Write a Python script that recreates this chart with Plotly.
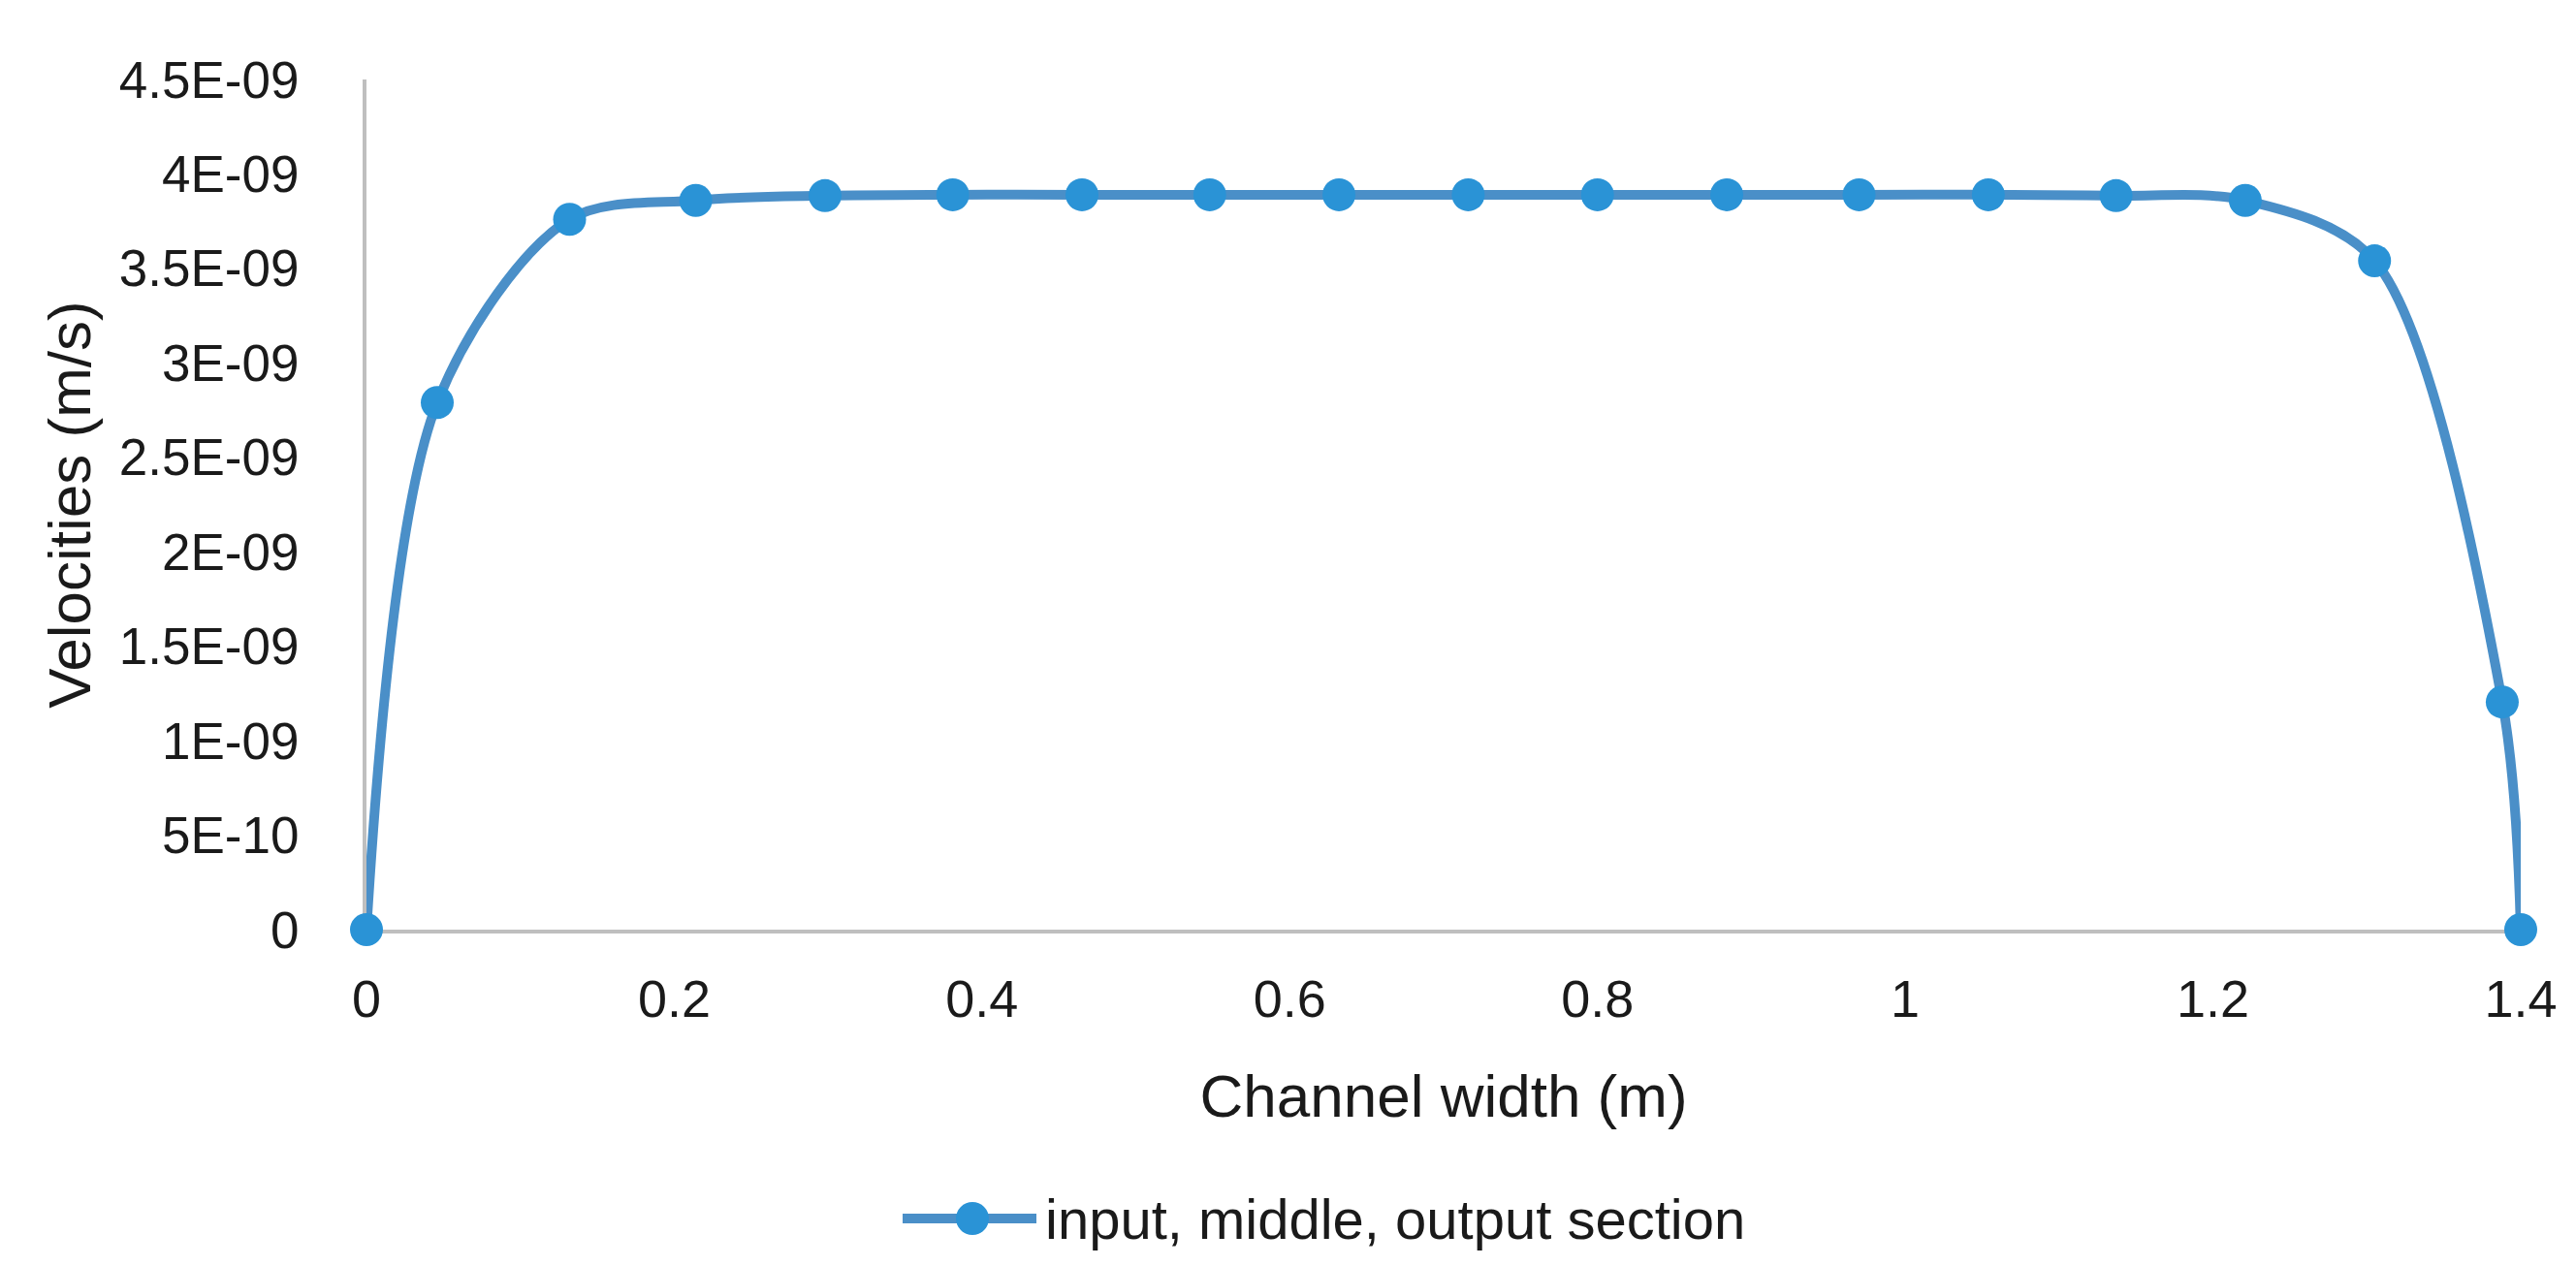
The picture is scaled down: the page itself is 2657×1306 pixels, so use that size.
import plotly.graph_objects as go

# Data
channel_width = [0, 0.046, 0.132, 0.214, 0.298, 0.381, 0.465, 0.548, 0.632,
                 0.716, 0.800, 0.884, 0.970, 1.054, 1.137, 1.221, 1.305, 1.388, 1.4]
velocity = [0, 2.79e-9, 3.76e-9, 3.86e-9, 3.885e-9, 3.89e-9, 3.89e-9, 3.89e-9, 3.89e-9,
            3.89e-9, 3.89e-9, 3.89e-9, 3.89e-9, 3.89e-9, 3.885e-9, 3.86e-9, 3.54e-9, 1.205e-9, 0]

series_name = "input, middle, output section"

x_tickvals = [0, 0.2, 0.4, 0.6, 0.8, 1.0, 1.2, 1.4]
x_ticktext = ["0", "0.2", "0.4", "0.6", "0.8", "1", "1.2", "1.4"]
y_tickvals = [0, 0.5e-9, 1e-9, 1.5e-9, 2e-9, 2.5e-9, 3e-9, 3.5e-9, 4e-9, 4.5e-9]
y_ticktext = ["0", "5E-10", "1E-09", "1.5E-09", "2E-09", "2.5E-09", "3E-09",
              "3.5E-09", "4E-09", "4.5E-09"]

LINE_COLOR = "#4a8fc8"
MARKER_COLOR = "#2a93d6"
AXIS_COLOR = "#bfbfbf"
TEXT_COLOR = "#1a1a1a"
FONT = "Liberation Sans, Arial, sans-serif"

fig = go.Figure()
fig.add_trace(go.Scatter(
    x=channel_width, y=velocity, mode="lines+markers", name=series_name,
    line=dict(color=LINE_COLOR, width=10, shape="spline", smoothing=0.9),
    marker=dict(color=MARKER_COLOR, size=34, line=dict(width=0)),
    cliponaxis=False, showlegend=False,
))

W, H = 2657, 1306
ml, mr, mt, mb = 370, 65, 74, 355
pw, ph = W - ml - mr, H - mt - mb

# Legend key (line + circle) with text, as in the Excel chart
leg_y = -(1249 - (H - mb)) / ph
leg_x0 = (923 - ml) / pw
leg_x1 = (1061 - ml) / pw
leg_xm = (995 - ml) / pw
leg_tx = (1068 - ml) / pw

fig.update_layout(
    width=W, height=H,
    margin=dict(l=ml, r=mr, t=mt, b=mb),
    paper_bgcolor="white", plot_bgcolor="white",
    font=dict(family=FONT, color=TEXT_COLOR),
    xaxis=dict(
        range=[0, 1.4], tickvals=x_tickvals, ticktext=x_ticktext,
        showgrid=False, zeroline=False, showline=True, linecolor=AXIS_COLOR,
        linewidth=4, ticks="", ticklabelstandoff=21, layer="below traces",
        tickfont=dict(size=54, family=FONT, color=TEXT_COLOR),
        title=dict(text="Channel width (m)", standoff=51,
                   font=dict(size=62, family=FONT, color=TEXT_COLOR)),
    ),
    yaxis=dict(
        range=[0, 4.5e-9], tickvals=y_tickvals, ticktext=y_ticktext,
        showgrid=False, zeroline=False, showline=True, linecolor=AXIS_COLOR,
        linewidth=4, ticks="", ticklabelstandoff=55, layer="below traces",
        tickfont=dict(size=53, family=FONT, color=TEXT_COLOR),
        title=dict(text="Velocities (m/s)", standoff=10,
                   font=dict(size=62, family=FONT, color=TEXT_COLOR)),
    ),
    shapes=[
        dict(type="line", xref="paper", yref="paper", x0=leg_x0, x1=leg_x1,
             y0=leg_y, y1=leg_y, line=dict(color=LINE_COLOR, width=10)),
        dict(type="circle", xref="paper", yref="paper", xsizemode="pixel",
             ysizemode="pixel", xanchor=leg_xm, yanchor=leg_y,
             x0=-17, x1=17, y0=-17, y1=17,
             fillcolor=MARKER_COLOR, line=dict(width=0)),
    ],
    annotations=[
        dict(text=series_name, xref="paper", yref="paper", x=leg_tx, y=leg_y,
             xanchor="left", yanchor="middle", showarrow=False,
             font=dict(size=58, family=FONT, color=TEXT_COLOR)),
    ],
)

fig.write_html("out.html")
